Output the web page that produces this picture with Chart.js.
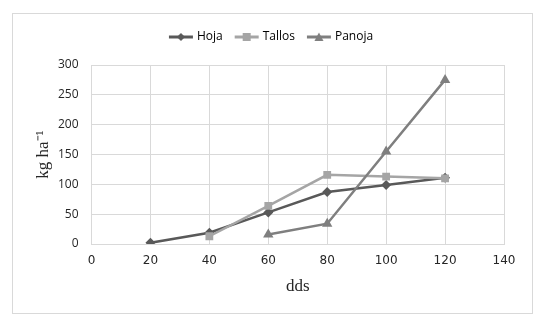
<!DOCTYPE html>
<html>
<head>
<meta charset="utf-8">
<script src="https://cdn.jsdelivr.net/npm/chart.js@4.4.1/dist/chart.umd.min.js"></script>
<style>
  html, body { margin: 0; padding: 0; background: #fff; }
  #wrap { position: relative; width: 544px; height: 321px; }
  #frame { position: absolute; left: 12px; top: 13px; width: 519px; height: 299px; border: 1px solid #d9d9d9; }
  #myChart { position: absolute; left: 0; top: 0; }
</style>
</head>
<body>
<div id="wrap">
  <div id="frame"></div>
  <canvas id="myChart" width="544" height="321"></canvas>
</div>
<script>
// dias despues de siembra
const dias = [20, 40, 60, 80, 100, 120];
const hoja = [2, 19, 53, 87, 99, 111];
const tallos = [null, 13, 64, 116, 113, 110];
const panoja = [null, null, 16, 34, 155, 275];
const xTicks = [0, 20, 40, 60, 80, 100, 120, 140];
const yTicks = [0, 50, 100, 150, 200, 250, 300];

function toPoints(vals) {
  return dias.map((d, i) => ({ x: d, y: vals[i] })).filter(p => p.y !== null);
}

// little line + marker picture for the legend
function legendIcon(color, style) {
  const c = document.createElement("canvas");
  c.width = 26; c.height = 12;
  const g = c.getContext("2d");
  g.strokeStyle = color; g.fillStyle = color; g.lineWidth = 3;
  g.beginPath(); g.moveTo(1, 6); g.lineTo(25, 6); g.stroke();
  g.beginPath();
  if (style === "rectRot") {
    g.moveTo(13, 2); g.lineTo(17, 6); g.lineTo(13, 10); g.lineTo(9, 6);
  } else if (style === "rect") {
    g.rect(9, 2, 8, 8);
  } else {
    g.moveTo(13, 1.5); g.lineTo(17.5, 10); g.lineTo(8.5, 10);
  }
  g.closePath(); g.fill();
  return c;
}

// later series drawn on top, like the original
const series = [
  { label: "Hoja", data: hoja, color: "#595959", style: "rectRot", r: 5, order: 3 },
  { label: "Tallos", data: tallos, color: "#a5a5a5", style: "rect", r: 5.5, order: 2 },
  { label: "Panoja", data: panoja, color: "#7f7f7f", style: "triangle", r: 6, order: 1 },
];

const ctx = document.getElementById("myChart").getContext("2d");
const myChart = new Chart(ctx, {
  type: "line",
  data: {
    datasets: series.map(s => ({
      label: s.label,
      data: toPoints(s.data),
      order: s.order,
      borderColor: s.color,
      backgroundColor: s.color,
      borderWidth: 2.5,
      pointStyle: s.style,
      pointRadius: s.r,
      pointBorderWidth: 0,
      pointHoverRadius: s.r,
      tension: 0,
    })),
  },
  options: {
    animation: false,
    responsive: false,
    layout: { padding: { left: 12, right: 12, top: 17, bottom: 8 } },
    plugins: {
      tooltip: { enabled: false },
      legend: {
        position: "top",
        labels: {
          usePointStyle: true,
          pointStyleWidth: 20,
          padding: 14,
          color: "#262626",
          font: { family: "Open Sans", size: 12 },
          generateLabels: (chart) => series.map((s, i) => ({
            text: s.label,
            datasetIndex: i,
            pointStyle: legendIcon(s.color, s.style),
            fillStyle: s.color,
            strokeStyle: s.color,
            lineWidth: 0,
            hidden: false,
          })),
        },
      },
      title: {
        display: true,
        text: " ",
        weight: 500,
        padding: 0,
        font: { size: 10 },
      },
    },
    scales: {
      x: {
        type: "linear",
        min: 0,
        max: 140,
        afterBuildTicks: (axis) => { axis.ticks = xTicks.map(v => ({ value: v })); },
        grid: { color: "#d9d9d9", drawTicks: false },
        border: { color: "#d9d9d9" },
        ticks: { padding: 10, color: "#262626", font: { family: "DejaVu Sans", size: 12 } },
        title: { display: true, text: "dds", color: "#262626", font: { family: "Liberation Serif", size: 17 }, padding: { top: 6, bottom: 16 } },
        afterFit: (axis) => { axis.height = 69; },
      },
      y: {
        min: 0,
        max: 300,
        afterBuildTicks: (axis) => { axis.ticks = yTicks.map(v => ({ value: v })); },
        grid: { color: "#d9d9d9", drawTicks: false },
        border: { color: "#d9d9d9" },
        ticks: { padding: 13, color: "#262626", font: { family: "Open Sans", size: 12 } },
        title: { display: true, text: "kg ha\u207B\u00B9", color: "#262626", font: { family: "Liberation Serif", size: 17 }, padding: { top: 21 } },
        afterFit: (axis) => { axis.width = 79.5; },
      },
      y2: {
        position: "right",
        display: true,
        grid: { display: false },
        border: { display: false },
        ticks: { display: false },
        afterFit: (axis) => { axis.width = 28; },
      },
    },
  },
});
</script>
</body>
</html>
